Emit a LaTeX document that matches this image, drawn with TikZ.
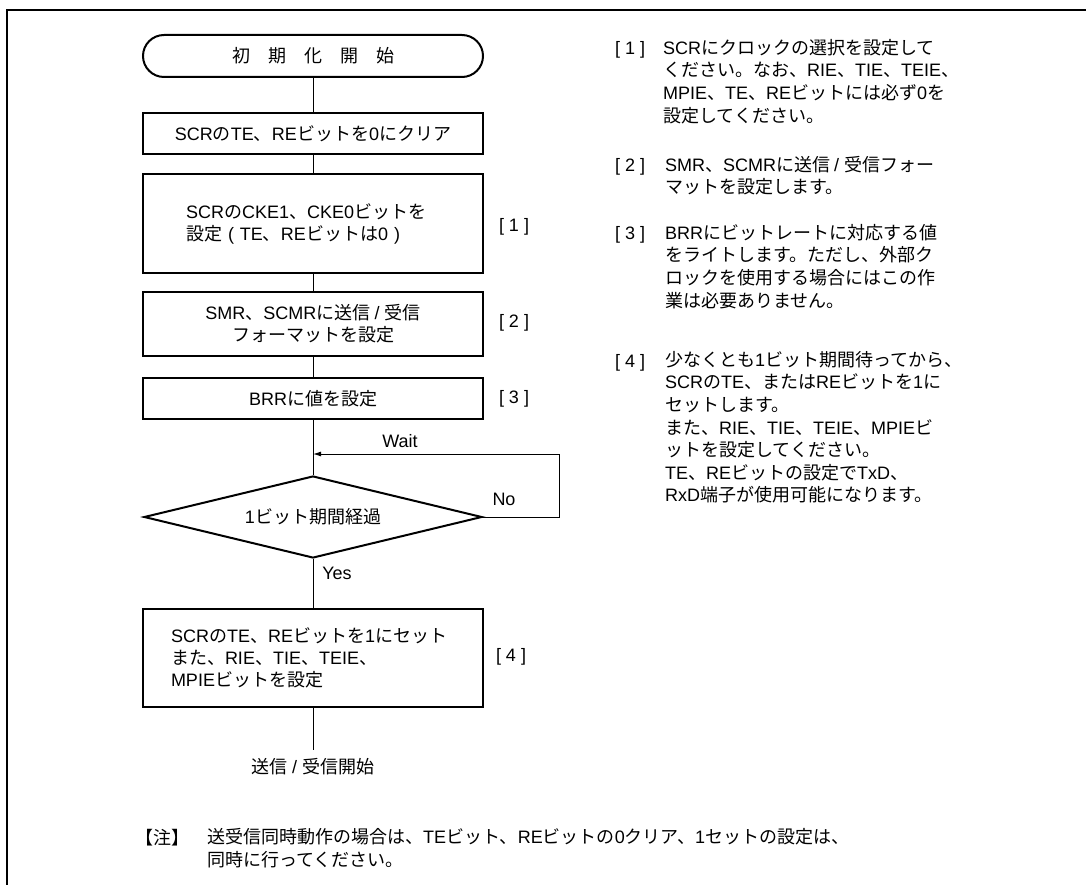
\documentclass[tikz,border=0pt]{standalone}
\usepackage{fontspec}
\setmainfont{Liberation Sans}
\newfontfamily\jpf{Noto Sans CJK JP}
\XeTeXinterchartokenstate=1
\newXeTeXintercharclass\jpclass
\newcount\jpcnt
\jpcnt="3000
\loop\ifnum\jpcnt<"3100 \XeTeXcharclass\jpcnt=\jpclass \advance\jpcnt by 1 \repeat
\jpcnt="4E00
\loop\ifnum\jpcnt<"A000 \XeTeXcharclass\jpcnt=\jpclass \advance\jpcnt by 1 \repeat
\jpcnt="FF00
\loop\ifnum\jpcnt<"FFF0 \XeTeXcharclass\jpcnt=\jpclass \advance\jpcnt by 1 \repeat
\XeTeXinterchartoks 0 \jpclass = {\jpf}
\XeTeXinterchartoks 4095 \jpclass = {\jpf}
\XeTeXinterchartoks \jpclass 0 = {\rmfamily}
\XeTeXinterchartoks 4095 0 = {\rmfamily}
\usetikzlibrary{shapes.geometric,arrows.meta}
\begin{document}
\begin{tikzpicture}[x=1pt,y=-1pt,
  every node/.style={inner sep=0pt, font=\fontsize{18}{22}\selectfont},
  box/.style={draw, line width=2pt, rectangle, minimum width=340pt},
  term/.style={box, rounded corners=21pt, minimum height=42pt},
  dec/.style={draw, line width=2pt, diamond, aspect=4, minimum width=338pt, minimum height=82pt},
  flow/.style={line width=1pt},
  tag/.style={anchor=center},
  lbl/.style={anchor=base west},
  para/.style={anchor=north west, align=left, font=\fontsize{18}{22.6}\selectfont},
  frame/.style={line width=2pt}
]
\useasboundingbox (0,0) rectangle (1086,885);
\draw[frame] (7,885) -- (7,10) -- (1086,10);

% flowchart
\node[term] (start) at (313,56) {初　期　化　開　始};
\node[box, minimum height=41pt] (b1) at (313,133.5) {SCRのTE、REビットを0にクリア};
\node[box, minimum height=99pt, text width=254pt, align=left] (b2) at (313,223.5)
  {SCRのCKE1、CKE0ビットを\\設定 ( TE、REビットは0 )};
\node[box, minimum height=64pt, align=center] (b3) at (313,324)
  {SMR、SCMRに送信 / 受信\\フォーマットを設定};
\node[box, minimum height=41pt] (b4) at (313,398.5) {BRRに値を設定};
\node[dec] (dia) at (313,517) {1ビット期間経過};
\node[box, minimum height=98pt, text width=284pt, align=left] (b5) at (313,658)
  {SCRのTE、REビットを1にセット\\また、RIE、TIE、TEIE、\\MPIEビットを設定};
\node (endt) at (313,767) {送信 / 受信開始};

\coordinate (loopR) at (559,454);
\coordinate (loopIn) at (313,454);
\coordinate (endline) at (313,750);

\draw[flow] (start) -- (b1);
\draw[flow] (b1) -- (b2);
\draw[flow] (b2) -- (b3);
\draw[flow] (b3) -- (b4);
\draw[flow] (b4) -- (dia);
\draw[flow] (dia) -- (b5);
\draw[flow] (b5) -- (endline);
\draw[flow, -{Latex[length=8pt,width=5pt]}] (dia.east) -| (loopR) -- (loopIn);

\node (wait) at (400,441) {Wait};
\node (no) at (504,499) {No};
\node (yes) at (337,573) {Yes};

\node[tag] (t1) at (514,227) {[\hspace{5pt}1\hspace{5pt}]};
\node[tag] (t2) at (514,323) {[\hspace{5pt}2\hspace{5pt}]};
\node[tag] (t3) at (514,399) {[\hspace{5pt}3\hspace{5pt}]};
\node[tag] (t4) at (511,657) {[\hspace{5pt}4\hspace{5pt}]};

% right column notes
\node[lbl] (n1l) at (615,55) {[\hspace{5pt}1\hspace{5pt}]};
\node[para] (n1) at (663,39) {SCRにクロックの選択を設定して\\ください。なお、RIE、TIE、TEIE、\\MPIE、TE、REビットには必ず0を\\設定してください。};
\node[lbl] (n2l) at (615,172) {[\hspace{5pt}2\hspace{5pt}]};
\node[para] (n2) at (665,156) {SMR、SCMRに送信 / 受信フォー\\マットを設定します。};
\node[lbl] (n3l) at (615,240) {[\hspace{5pt}3\hspace{5pt}]};
\node[para] (n3) at (665,224) {BRRにビットレートに対応する値\\をライトします。ただし、外部ク\\ロックを使用する場合にはこの作\\業は必要ありません。};
\node[lbl] (n4l) at (615,367) {[\hspace{5pt}4\hspace{5pt}]};
\node[para] (n4) at (665,351) {少なくとも1ビット期間待ってから、\\SCRのTE、またはREビットを1に\\セットします。\\また、RIE、TIE、TEIE、MPIEビ\\ットを設定してください。\\TE、REビットの設定でTxD、\\RxD端子が使用可能になります。};

% bottom note
\node[lbl] (notel) at (135,844) {【注】};
\node[para] (note) at (207,828) {送受信同時動作の場合は、TEビット、REビットの0クリア、1セットの設定は、\\同時に行ってください。};
\end{tikzpicture}
\end{document}
